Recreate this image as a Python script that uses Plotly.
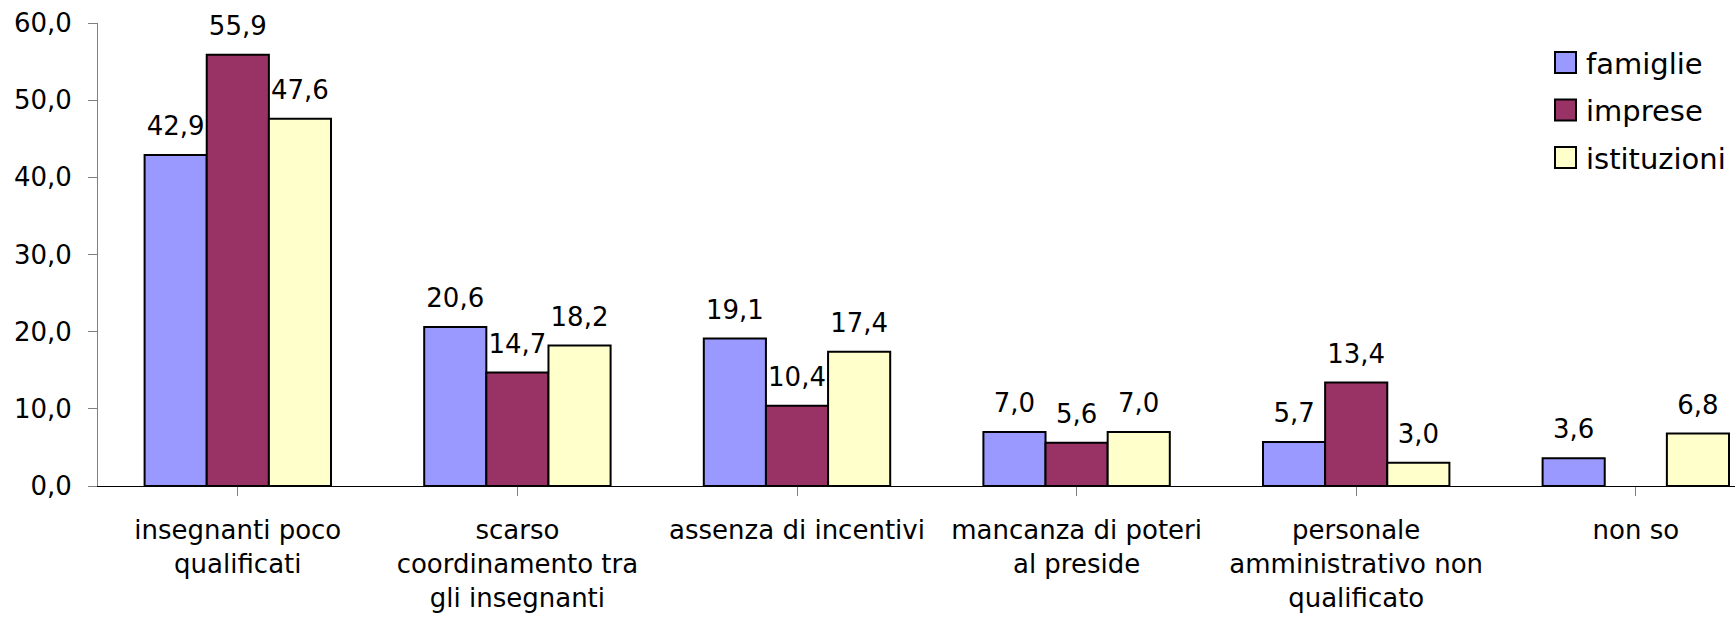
import plotly.graph_objects as go

# Survey results (percentages) by respondent group
categories = [
    "insegnanti poco<br>qualificati",
    "scarso<br>coordinamento tra<br>gli insegnanti",
    "assenza di incentivi",
    "mancanza di poteri<br>al preside",
    "personale<br>amministrativo non<br>qualificato",
    "non so",
]
series_names = ["famiglie", "imprese", "istituzioni"]
famiglie = [42.9, 20.6, 19.1, 7.0, 5.7, 3.6]
imprese = [55.9, 14.7, 10.4, 5.6, 13.4, None]
istituzioni = [47.6, 18.2, 17.4, 7.0, 3.0, 6.8]
y_ticks = [0, 10, 20, 30, 40, 50, 60]

series_values = [famiglie, imprese, istituzioni]
colors = ["#9999FF", "#993366", "#FFFFCC"]

W, H = 1735, 619
ML, MR, MT, MB = 98, 0, 23, 133
FONT = "DejaVu Sans, Liberation Sans, Arial, sans-serif"
FS = 26
FS_LEGEND = 29


def fmt(v):
    return "" if v is None else f"{v:.1f}".replace(".", ",")


fig = go.Figure()
for name, vals, col in zip(series_names, series_values, colors):
    fig.add_trace(go.Bar(
        x=list(range(len(categories))), y=vals, name=name,
        marker=dict(color=col, line=dict(color="black", width=2)),
        offsetgroup=name, showlegend=False, hoverinfo="skip",
    ))

# value labels above each bar, grouped like the bars
for name, vals in zip(series_names, series_values):
    fig.add_trace(go.Scatter(
        x=list(range(len(categories))), y=vals, mode="markers+text",
        text=[fmt(v) for v in vals], textposition="top center",
        textfont=dict(family=FONT, size=FS, color="black"),
        marker=dict(size=20, color="rgba(0,0,0,0)"),
        offsetgroup=name, showlegend=False, hoverinfo="skip",
        cliponaxis=False,
    ))

# category width in pixels, used to set the visible x range
plot_w = W - ML - MR
cat_px = 279.6
x_max = plot_w / cat_px - 0.5

fig.update_layout(
    width=W, height=H, autosize=False,
    margin=dict(l=ML, r=MR, t=MT, b=MB, pad=0),
    paper_bgcolor="white", plot_bgcolor="white",
    barmode="group", bargap=1/3, bargroupgap=0,
    scattermode="group", scattergap=1/3,
    font=dict(family=FONT, size=FS, color="black"),
    separators=",.",
    xaxis=dict(
        range=[-0.5, x_max], tickmode="array",
        tickvals=list(range(len(categories))), ticktext=categories,
        tickson="boundaries", ticks="outside", ticklen=9, tickcolor="#808080",
        showline=True, linecolor="black", linewidth=1,
        showgrid=False, zeroline=False, ticklabelstandoff=12,
        tickfont=dict(family=FONT, size=FS, color="black"),
    ),
    yaxis=dict(
        range=[0, 60], tickmode="array", tickvals=y_ticks,
        ticktext=[fmt(float(t)) for t in y_ticks],
        ticks="outside", ticklen=9, tickcolor="#808080",
        showline=True, linecolor="#808080", linewidth=1,
        showgrid=False, zeroline=False, ticklabelstandoff=11,
        tickfont=dict(family=FONT, size=FS, color="black"),
    ),
    showlegend=False,
)


def px_x(p):
    return (p - ML) / plot_w


def px_y(p):
    return 1 - (p - MT) / (H - MT - MB)


# legend box at the upper right
sq = 21
for i, (name, col) in enumerate(zip(series_names, colors)):
    cy = 62.5 + 47.5 * i
    fig.add_shape(
        type="rect", xref="paper", yref="paper",
        x0=px_x(1555), x1=px_x(1555 + sq),
        y0=px_y(cy + sq / 2), y1=px_y(cy - sq / 2),
        fillcolor=col, line=dict(color="black", width=2),
    )
    fig.add_annotation(
        xref="paper", yref="paper", x=px_x(1584), y=px_y(cy + 1),
        xanchor="left", yanchor="middle", text=name, showarrow=False,
        font=dict(family=FONT, size=FS_LEGEND, color="black"),
    )

fig.write_html("out.html")
